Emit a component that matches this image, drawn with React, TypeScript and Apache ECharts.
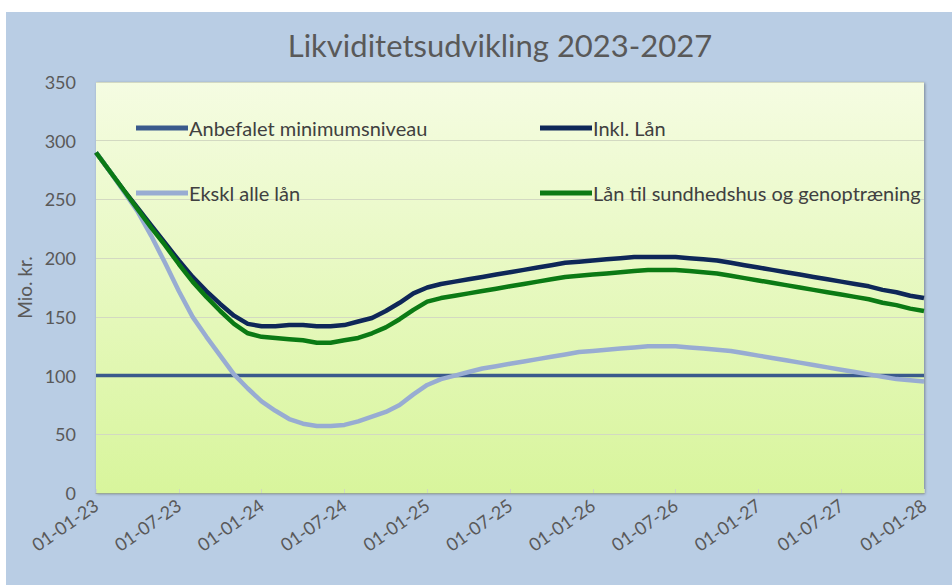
import React, { useEffect, useRef } from "react";
import * as echarts from "echarts";

const MONTHS = [
  "01-01-23","01-02-23","01-03-23","01-04-23","01-05-23","01-06-23","01-07-23","01-08-23","01-09-23","01-10-23","01-11-23","01-12-23",
  "01-01-24","01-02-24","01-03-24","01-04-24","01-05-24","01-06-24","01-07-24","01-08-24","01-09-24","01-10-24","01-11-24","01-12-24",
  "01-01-25","01-02-25","01-03-25","01-04-25","01-05-25","01-06-25","01-07-25","01-08-25","01-09-25","01-10-25","01-11-25","01-12-25",
  "01-01-26","01-02-26","01-03-26","01-04-26","01-05-26","01-06-26","01-07-26","01-08-26","01-09-26","01-10-26","01-11-26","01-12-26",
  "01-01-27","01-02-27","01-03-27","01-04-27","01-05-27","01-06-27","01-07-27","01-08-27","01-09-27","01-10-27","01-11-27","01-12-27",
  "01-01-28",
];

const MIN_LEVEL = 100;

const INKL_LAAN = [
  290, 274, 258, 243, 228, 213, 198, 184, 172, 161, 151, 144,
  142, 142, 143, 143, 142, 142, 143, 146, 149, 155, 162, 170,
  175, 178, 180, 182, 184, 186, 188, 190, 192, 194, 196, 197,
  198, 199, 200, 201, 201, 201, 201, 200, 199, 198, 196, 194,
  192, 190, 188, 186, 184, 182, 180, 178, 176, 173, 171, 168,
  166,
];

const EKSKL_ALLE = [
  290, 274, 257, 240, 219, 196, 172, 150, 133, 117, 101, 89,
  78, 70, 63, 59, 57, 57, 58, 61, 65, 69, 75, 84,
  92, 97, 100, 103, 106, 108, 110, 112, 114, 116, 118, 120,
  121, 122, 123, 124, 125, 125, 125, 124, 123, 122, 121, 119,
  117, 115, 113, 111, 109, 107, 105, 103, 101, 99, 97, 96,
  95,
];

const SUNDHEDSHUS = [
  290, 274, 258, 242, 226, 211, 195, 180, 167, 155, 144, 136,
  133, 132, 131, 130, 128, 128, 130, 132, 136, 141, 148, 156,
  163, 166, 168, 170, 172, 174, 176, 178, 180, 182, 184, 185,
  186, 187, 188, 189, 190, 190, 190, 189, 188, 187, 185, 183,
  181, 179, 177, 175, 173, 171, 169, 167, 165, 162, 160, 157,
  155,
];

const SERIES_NAMES = [
  "Anbefalet minimumsniveau",
  "Inkl. Lån",
  "Ekskl alle lån",
  "Lån til sundhedshus og genoptræning",
];

const COLORS = ["#3a5a8c", "#0e2758", "#98acd2", "#0b7a14"];

const FONT = "Lato, 'Open Sans', sans-serif";

export default function App() {
  const ref = useRef<HTMLDivElement>(null);

  useEffect(() => {
    if (!ref.current) return;
    const chart = echarts.init(ref.current, null, { renderer: "svg" });

    const legendPos = [
      { left: 130, top: 106 },
      { left: 534, top: 106 },
      { left: 130, top: 171 },
      { left: 534, top: 171 },
    ];

    const seriesData = [
      MONTHS.map(() => MIN_LEVEL),
      INKL_LAAN,
      EKSKL_ALLE,
      SUNDHEDSHUS,
    ];

    chart.setOption({
      animation: false,
      backgroundColor: "#b9cde4",
      title: {
        text: "Likviditetsudvikling 2023-2027",
        left: 494,
        textAlign: "center",
        top: 17,
        padding: 0,
        textStyle: {
          fontFamily: FONT,
          fontSize: 31,
          fontWeight: "normal",
          color: "#595959",
        },
      },
      legend: SERIES_NAMES.map((name, i) => ({
        data: [name],
        left: legendPos[i].left,
        top: legendPos[i].top,
        padding: 0,
        icon: "rect",
        itemWidth: 52,
        itemHeight: 5,
        selectedMode: false,
        textStyle: {
          fontFamily: FONT,
          fontSize: 20,
          color: "#404040",
          padding: [0, 0, 0, -4],
        },
      })),
      grid: {
        left: 90,
        top: 70,
        right: 28,
        bottom: 92,
        show: true,
        borderWidth: 0,
        backgroundColor: new echarts.graphic.LinearGradient(0, 0, 0, 1, [
          { offset: 0, color: "#f5fce2" },
          { offset: 1, color: "#d8f59c" },
        ]),
        shadowColor: "rgba(0,0,0,0.35)",
        shadowBlur: 3,
        shadowOffsetX: 1,
        shadowOffsetY: 1,
      },
      xAxis: {
        type: "category",
        data: MONTHS,
        boundaryGap: false,
        axisLine: { show: true, lineStyle: { color: "#9aa89a", width: 1 } },
        axisTick: { show: true, interval: 5, inside: true, length: 4, lineStyle: { color: "#d0d8c0" } },
        splitLine: { show: false },
        axisLabel: {
          interval: 5,
          rotate: 35,
          margin: 10,
          fontFamily: FONT,
          fontSize: 18,
          color: "#595959",
        },
      },
      yAxis: {
        type: "value",
        min: 0,
        max: 350,
        interval: 50,
        name: "Mio. kr.",
        nameLocation: "middle",
        nameGap: 62,
        nameTextStyle: { fontFamily: FONT, fontSize: 19, color: "#595959" },
        axisLine: { show: false },
        axisTick: { show: false },
        splitLine: { show: true, lineStyle: { color: "#d3d9c2", width: 1 } },
        axisLabel: {
          margin: 20,
          fontFamily: FONT,
          fontSize: 18,
          color: "#595959",
        },
      },
      series: SERIES_NAMES.map((name, i) => ({
        name,
        type: "line",
        data: seriesData[i],
        showSymbol: false,
        symbol: "none",
        smooth: false,
        color: COLORS[i],
        itemStyle: { color: COLORS[i] },
        lineStyle: { color: COLORS[i], width: i === 0 ? 3.5 : 4.5 },
        z: 2 + i,
      })),
    });

    return () => chart.dispose();
  }, []);

  return (
    <div
      ref={ref}
      style={{ position: "absolute", left: 6, top: 12, width: 946, height: 573 }}
    />
  );
}
